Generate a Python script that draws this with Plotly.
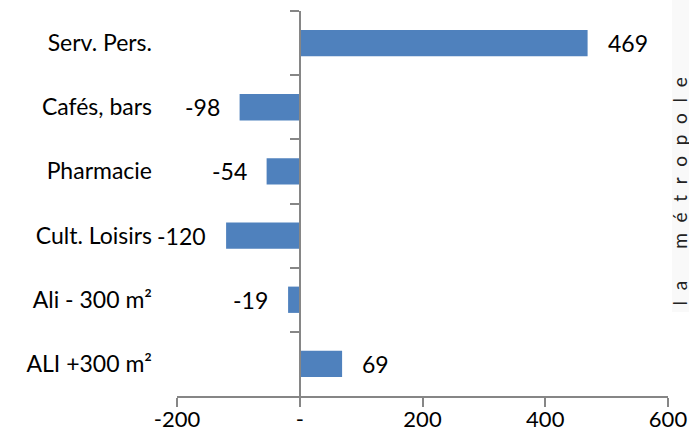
import plotly.graph_objects as go

# Net change by commerce type
categories = ["Serv. Pers.", "Cafés, bars", "Pharmacie", "Cult. Loisirs", "Ali - 300 m²", "ALI +300 m²"]
values = [469, -98, -54, -120, -19, 69]
x_tickvals = [-200, 0, 200, 400, 600]
x_ticktext = ["-200", "-", "200", "400", "600"]
side_title = "l a   m é t r o p o l e"

W, H = 689, 442
ML, MR, MT, MB = 177, 21, 11, 46
PW, PH = W - ML - MR, H - MT - MB

FONT = "Lato"
AXIS_GRAY = "#868686"
BAR_BLUE = "#4F81BD"

fig = go.Figure()

fig.add_trace(go.Bar(
    x=values, y=categories, orientation="h",
    marker=dict(color=BAR_BLUE, line=dict(width=0)),
    width=0.41, hoverinfo="skip", showlegend=False,
))

# invisible trace so the central axis (at x = 0) carries the category boundaries
fig.add_trace(go.Scatter(
    x=values, y=categories, yaxis="y2", mode="markers",
    marker=dict(opacity=0), hoverinfo="skip", showlegend=False,
))

# value labels next to each bar end
for c, v in zip(categories, values):
    fig.add_annotation(
        x=v, y=c, text=str(v), showarrow=False,
        xanchor="left" if v >= 0 else "right",
        xshift=18 if v >= 0 else -18,
        font=dict(family=FONT, size=23, color="#000000"),
    )

def px_to_paper_x(px):
    return (px - ML) / PW

def px_to_paper_y(py):
    return 1 - (py - MT) / PH

# faint side panel holding the clipped, letter-spaced title
fig.add_shape(
    type="rect", xref="paper", yref="paper",
    x0=px_to_paper_x(672), x1=px_to_paper_x(700),
    y0=px_to_paper_y(312), y1=px_to_paper_y(-5),
    fillcolor="#f9f9f9", line=dict(width=0), layer="below",
)
spaced_title = side_title.replace(" ", "\u2002\u200a")
fig.add_annotation(
    xref="paper", yref="paper",
    x=px_to_paper_x(665), y=px_to_paper_y(192),
    xanchor="left", yanchor="middle",
    text=spaced_title, textangle=-90, showarrow=False,
    font=dict(family=FONT, size=19, color="#222222"),
)

cat_range = [len(categories) - 0.5, -0.5]

fig.update_layout(
    width=W, height=H,
    margin=dict(l=ML, r=MR, t=MT, b=MB, pad=0, autoexpand=False),
    paper_bgcolor="white", plot_bgcolor="white",
    bargap=0.59,
    xaxis=dict(
        range=[-200, 600], tickvals=x_tickvals, ticktext=x_ticktext,
        showgrid=False, zeroline=False, automargin=False,
        showline=True, linecolor=AXIS_GRAY, linewidth=1.5,
        ticks="outside", ticklen=9, tickcolor=AXIS_GRAY, tickwidth=1.5,
        tickfont=dict(family=FONT, size=22, color="#000000"),
        ticklabelstandoff=-6,
    ),
    yaxis=dict(
        type="category", categoryarray=categories, range=cat_range,
        showgrid=False, zeroline=False, showline=False, ticks="",
        automargin=False,
        tickfont=dict(family=FONT, size=23, color="#000000"),
        ticklabelstandoff=24,
    ),
    yaxis2=dict(
        type="category", categoryarray=categories, range=cat_range,
        overlaying="y", anchor="free", position=px_to_paper_x(300),
        showgrid=False, zeroline=False, showticklabels=False,
        automargin=False,
        showline=True, linecolor=AXIS_GRAY, linewidth=1.5,
        ticks="outside", ticklen=9, tickcolor=AXIS_GRAY, tickwidth=1.5,
        tickson="boundaries",
    ),
)

fig.write_html("out.html")
